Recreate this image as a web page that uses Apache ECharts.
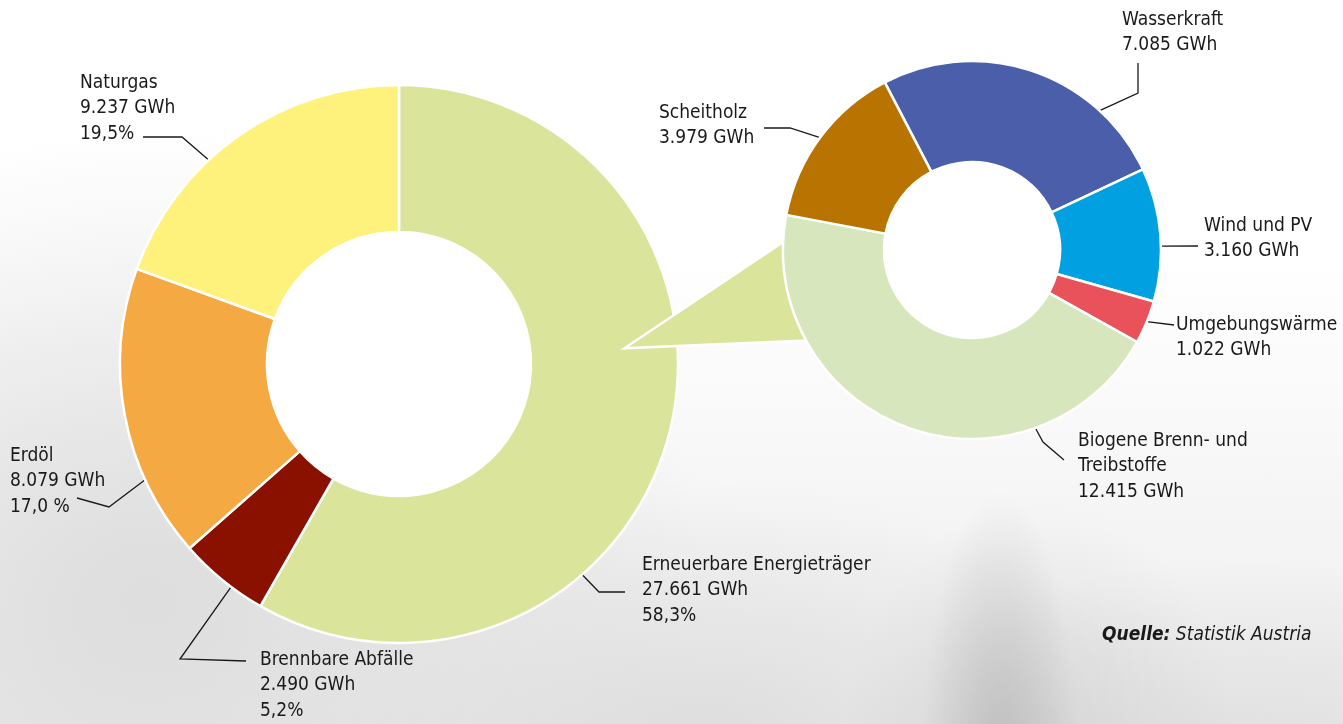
<!DOCTYPE html>
<html>
<head>
<meta charset="utf-8">
<script src="https://cdn.jsdelivr.net/npm/echarts@6/dist/echarts.min.js"></script>
<style>
html, body { margin: 0; padding: 0; }
#chart {
    width: 1343px;
    height: 724px;
    background:
        radial-gradient(ellipse 80px 300px at 1000px 790px, rgba(160,160,160,0.5), rgba(160,160,160,0)),
        radial-gradient(ellipse 200px 260px at 1040px 760px, rgba(200,200,200,0.5), rgba(200,200,200,0)),
        radial-gradient(ellipse 560px 470px at 150px 600px, #dddddd, rgba(221,221,221,0)),
        radial-gradient(ellipse 460px 260px at 700px 740px, rgba(220,220,220,0.9), rgba(220,220,220,0)),
        radial-gradient(ellipse 420px 200px at 1250px 760px, rgba(220,220,220,0.8), rgba(220,220,220,0)),
        linear-gradient(to bottom, #ffffff 0px, #ffffff 260px, #ededed 724px);
}
</style>
</head>
<body>
<div id="chart"></div>
<script>
// Bruttoinlandsverbrauch nach Energieträgern (GWh)
var mainNames = ['Erneuerbare Energieträger', 'Brennbare Abfälle', 'Erdöl', 'Naturgas'];
var mainValues = [27661, 2490, 8079, 9237];
var mainShares = ['58,3%', '5,2%', '17,0 %', '19,5%'];
var mainColors = ['#dae49a', '#8a1000', '#f5a942', '#fff27c'];

// davon erneuerbare Energieträger (GWh)
var renNames = ['Wasserkraft', 'Wind und PV', 'Umgebungswärme', 'Biogene Brenn- und\nTreibstoffe', 'Scheitholz'];
var renValues = [7085, 3160, 1022, 12415, 3979];
var renColors = ['#4a5ea9', '#00a0e1', '#e9525b', '#d8e6bd', '#b87300'];

var FONT = "'DejaVu Sans Condensed', 'Liberation Sans Narrow', 'Liberation Sans', sans-serif";
var FONT_SIZE = 19;

// Geometrie der beiden Ringe
var mainCenter = [399, 364], mainRadius = [132, 279];
var renCenter = [972, 250], renRadius = [88, 189];

// Beschriftungen: Position, Winkel (im Uhrzeigersinn ab 12 Uhr) und Knickpunkte der Linie
var mainLabels = [
    { x: 642, y: 552, angle: 139, line: [[599, 592], [625, 592]] },
    { x: 260, y: 647, angle: 217, line: [[180, 659], [246, 661]] },
    { x: 10,  y: 443, angle: 245.5, line: [[109, 507], [77, 498]] },
    { x: 80,  y: 70,  angle: 317, line: [[182, 137], [143, 137]] }
];
var renLabels = [
    { x: 1122, y: 7,   angle: 42.5, line: [[1138, 93], [1138, 63]] },
    { x: 1204, y: 213, angle: 88.8, line: [[1198, 246]] },
    { x: 1176, y: 312, angle: 112.3, line: [[1174, 325]] },
    { x: 1078, y: 428, angle: 160.4, line: [[1043, 442], [1064, 460]] },
    { x: 659,  y: 100, angle: 306.5, line: [[790, 128], [764, 128]] }
];

function fmt(v) {
    return String(v).replace(/\B(?=(\d{3})+(?!\d))/g, '.');
}
function onRing(center, r, angle) {
    var a = angle * Math.PI / 180;
    return [center[0] + r * Math.sin(a), center[1] - r * Math.cos(a)];
}
function layoutFor(labels, center, r) {
    return function(params) {
        var c = labels[params.dataIndex];
        return {
            x: c.x,
            y: c.y,
            align: 'left',
            verticalAlign: 'top',
            labelLinePoints: [onRing(center, r, c.angle)].concat(c.line)
        };
    };
}

// Keil zwischen den beiden Ringen
var wedge = [
    onRing(mainCenter, mainRadius[1] * 0.81, 86),
    onRing(renCenter, renRadius[1], 272.4),
    onRing(renCenter, renRadius[1], 241.4)
];

var myChart = echarts.init(document.getElementById('chart'));

var labelStyle = {
    show: true,
    position: 'outside',
    color: '#1a1a1a',
    fontFamily: FONT,
    fontSize: FONT_SIZE,
    lineHeight: 25.5
};
var lineStyle = {
    show: true,
    lineStyle: { color: '#1a1a1a', width: 1.3 }
};

var option = {
    backgroundColor: 'transparent',
    animation: false,
    title: {
        text: '{b|Quelle:} Statistik Austria',
        left: 1097,
        top: 621,
        textStyle: {
            fontFamily: FONT,
            fontSize: FONT_SIZE,
            fontStyle: 'italic',
            fontWeight: 'normal',
            color: '#1a1a1a',
            rich: {
                b: { fontFamily: FONT, fontSize: FONT_SIZE, fontStyle: 'italic', fontWeight: 'bold', color: '#1a1a1a' }
            }
        }
    },
    graphic: [{
        // weiße Löcher in der Mitte
        type: 'circle',
        z: 1,
        shape: { cx: mainCenter[0], cy: mainCenter[1], r: mainRadius[0] + 3 },
        style: { fill: '#ffffff' }
    }, {
        type: 'circle',
        z: 1,
        shape: { cx: renCenter[0], cy: renCenter[1], r: renRadius[0] + 3 },
        style: { fill: '#ffffff' }
    }, {
        type: 'polygon',
        z: 3,
        shape: { points: wedge },
        style: { fill: mainColors[0], stroke: '#ffffff', lineWidth: 2.5 }
    }],
    series: [{
        name: 'Energieträger',
        type: 'pie',
        z: 2,
        center: mainCenter,
        radius: mainRadius,
        startAngle: 90,
        clockwise: true,
        avoidLabelOverlap: false,
        itemStyle: { borderColor: '#ffffff', borderWidth: 2.5 },
        label: Object.assign({}, labelStyle, {
            formatter: function(p) {
                return p.name + '\n' + fmt(p.value) + ' GWh\n' + mainShares[p.dataIndex];
            }
        }),
        labelLine: lineStyle,
        labelLayout: layoutFor(mainLabels, mainCenter, mainRadius[1]),
        emphasis: { disabled: true },
        data: mainNames.map(function(n, i) {
            return { name: n, value: mainValues[i], itemStyle: { color: mainColors[i] } };
        })
    }, {
        name: 'Erneuerbare',
        type: 'pie',
        z: 5,
        center: renCenter,
        radius: renRadius,
        startAngle: 117.5,
        clockwise: true,
        avoidLabelOverlap: false,
        itemStyle: { borderColor: '#ffffff', borderWidth: 2.5 },
        label: Object.assign({}, labelStyle, {
            formatter: function(p) {
                return p.name + '\n' + fmt(p.value) + ' GWh';
            }
        }),
        labelLine: lineStyle,
        labelLayout: layoutFor(renLabels, renCenter, renRadius[1]),
        emphasis: { disabled: true },
        data: renNames.map(function(n, i) {
            return { name: n, value: renValues[i], itemStyle: { color: renColors[i] } };
        })
    }]
};

myChart.setOption(option);
</script>
</body>
</html>
